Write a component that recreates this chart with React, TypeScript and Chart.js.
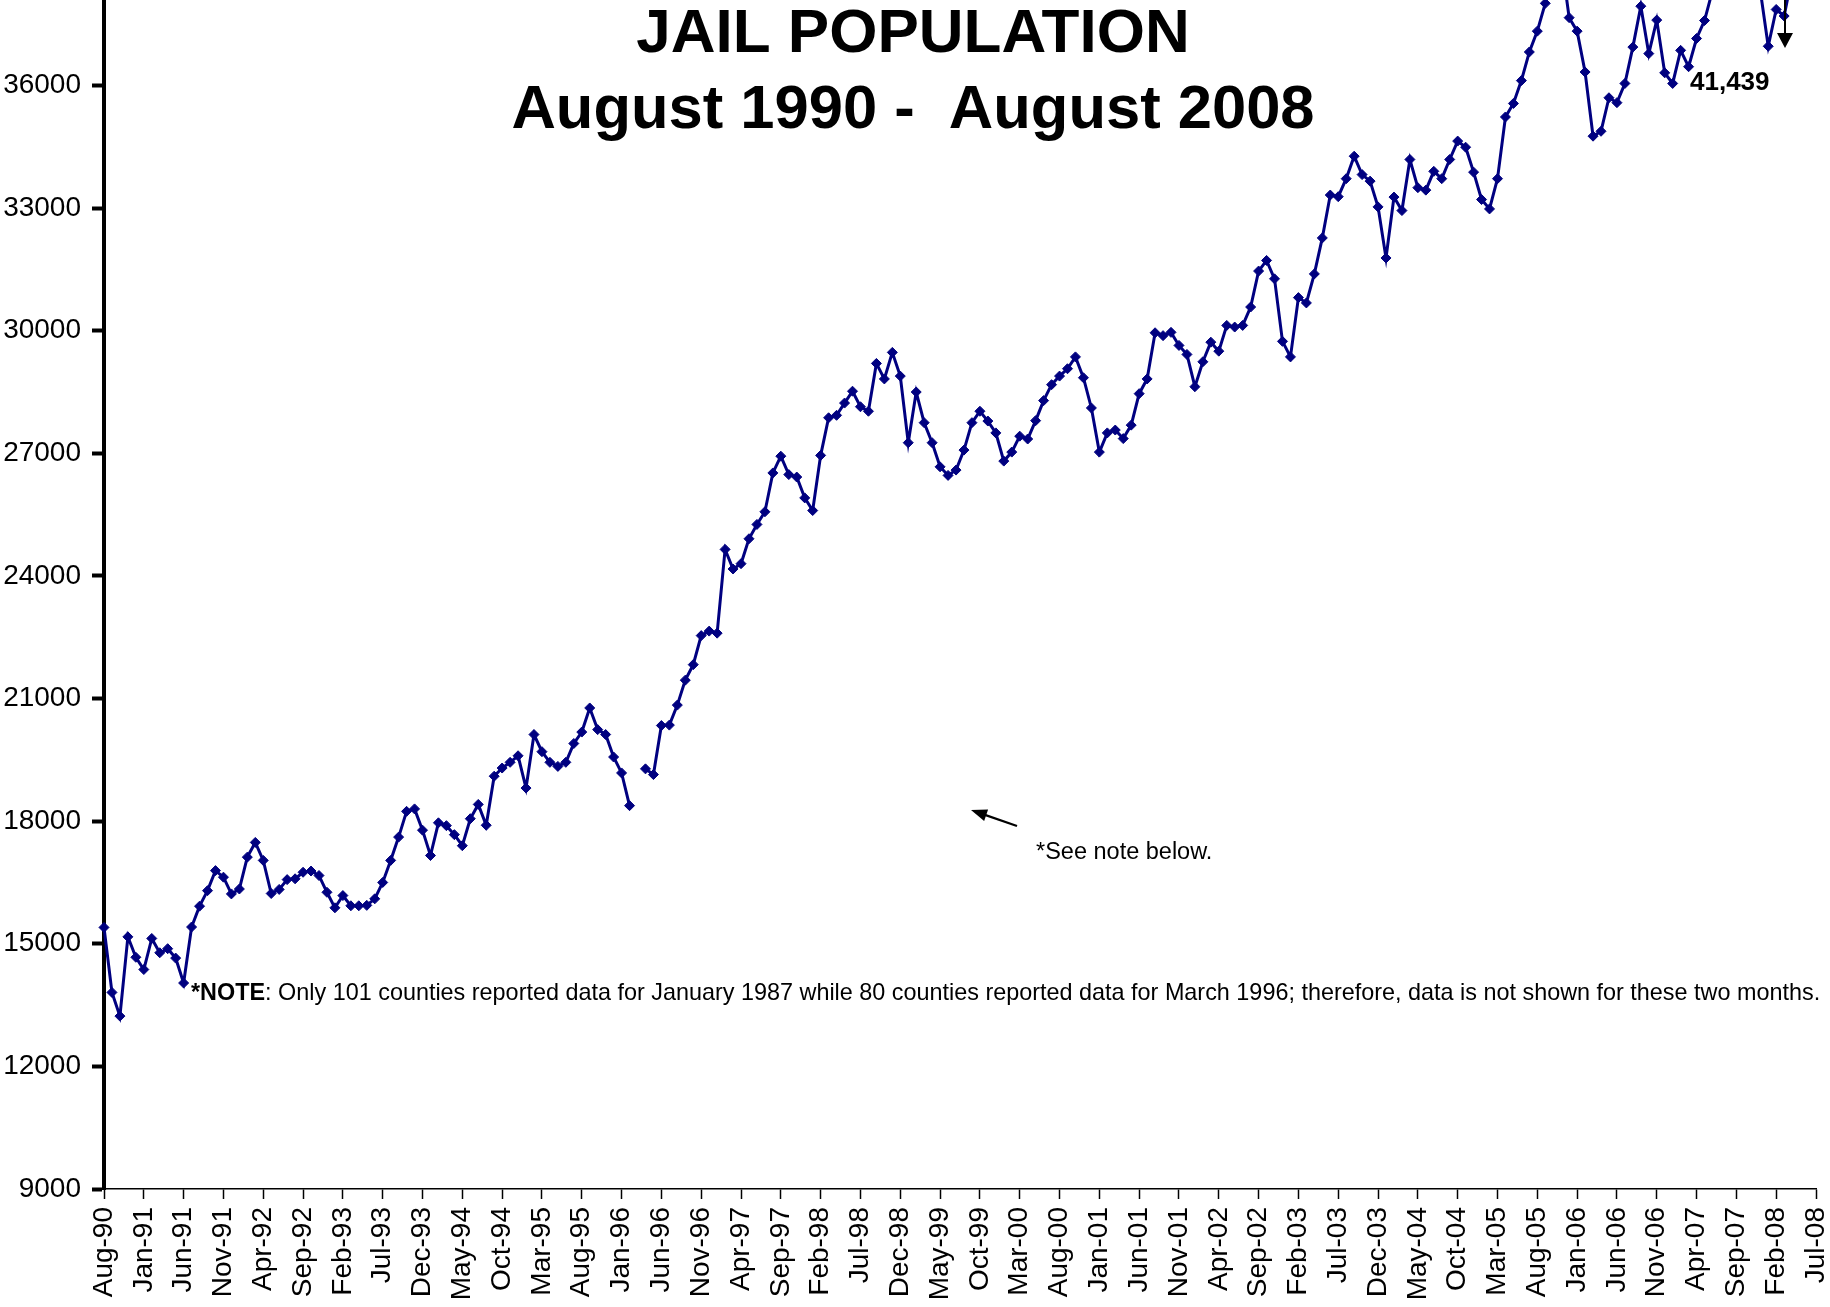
import React, { useEffect, useRef } from 'react';
import { Chart, registerables } from 'chart.js';

Chart.register(...registerables);

const MONTH_NAMES = ['Jan', 'Feb', 'Mar', 'Apr', 'May', 'Jun', 'Jul', 'Aug', 'Sep', 'Oct', 'Nov', 'Dec'];

// Monthly categories, Aug-90 .. Aug-08
const CATEGORIES: string[] = [];
for (let i = 0; i < 217; i++) {
  const mi = (7 + i) % 12;
  const yr = 1990 + Math.floor((7 + i) / 12);
  CATEGORIES.push(`${MONTH_NAMES[mi]}-${String(yr % 100).padStart(2, '0')}`);
}

// Jail population (Mar-96 not shown)
const POPULATION: (number | null)[] = [
  15400, 13810, 13230, 15170, 14670, 14370, 15130, 14780, 14880, 14650,
  14040, 15410, 15920, 16300, 16790, 16630, 16220, 16340, 17120, 17480,
  17040, 16230, 16330, 16570, 16590, 16750, 16780, 16670, 16260, 15880,
  16180, 15930, 15930, 15940, 16100, 16500, 17040, 17610, 18240, 18300,
  17780, 17160, 17960, 17890, 17670, 17400, 18060, 18410, 17900, 19100,
  19300, 19440, 19600, 18810, 20120, 19700, 19440, 19340, 19440, 19900,
  20180, 20770, 20240, 20120, 19570, 19180, 18380, null, 19280, 19140,
  20340, 20350, 20840, 21450, 21830, 22540, 22650, 22600, 24650, 24170,
  24300, 24910, 25260, 25570, 26520, 26930, 26480, 26420, 25910, 25600,
  26950, 27870, 27930, 28230, 28520, 28140, 28030, 29200, 28820, 29470,
  28890, 27260, 28500, 27750, 27260, 26670, 26460, 26590, 27080, 27750,
  28030, 27790, 27500, 26810, 27030, 27420, 27350, 27800, 28290, 28680,
  28890, 29070, 29360, 28850, 28110, 27030, 27500, 27570, 27360, 27690,
  28460, 28820, 29950, 29880, 29960, 29640, 29420, 28630, 29240, 29720,
  29500, 30130, 30090, 30130, 30580, 31460, 31720, 31270, 29740, 29360,
  30810, 30680, 31390, 32270, 33320, 33280, 33720, 34270, 33820, 33660,
  33030, 31780, 33270, 32940, 34190, 33500, 33440, 33900, 33720, 34190,
  34640, 34490, 33880, 33210, 32980, 33720, 35230, 35560, 36120, 36820,
  37330, 38010, 38900, 39100, 37660, 37330, 36330, 34760, 34880, 35700,
  35580, 36050, 36940, 37940, 36780, 37600, 36310, 36050, 36860, 36460,
  37150, 37590, 38320, 38900, 39300, 39500, 39200, 38800, 38330, 36960,
  37860, 37700, 38680, 39600, 40400, 40900, 41439,
];

const Y_TICKS = [9000, 12000, 15000, 18000, 21000, 24000, 27000, 30000, 33000, 36000];

const X_TICK_LABELS = [
  'Aug-90', 'Jan-91', 'Jun-91', 'Nov-91', 'Apr-92', 'Sep-92', 'Feb-93', 'Jul-93', 'Dec-93', 'May-94',
  'Oct-94', 'Mar-95', 'Aug-95', 'Jan-96', 'Jun-96', 'Nov-96', 'Apr-97', 'Sep-97', 'Feb-98', 'Jul-98',
  'Dec-98', 'May-99', 'Oct-99', 'Mar-00', 'Aug-00', 'Jan-01', 'Jun-01', 'Nov-01', 'Apr-02', 'Sep-02',
  'Feb-03', 'Jul-03', 'Dec-03', 'May-04', 'Oct-04', 'Mar-05', 'Aug-05', 'Jan-06', 'Jun-06', 'Nov-06',
  'Apr-07', 'Sep-07', 'Feb-08', 'Jul-08',
];

const TITLE_LINES = ['JAIL POPULATION', 'August 1990 -  August 2008'];
const LAST_VALUE_LABEL = '41,439';
const SEE_NOTE = '*See note below.';
const NOTE_BOLD = '*NOTE';
const NOTE_TEXT = ': Only 101 counties reported data for January 1987 while 80 counties reported data for March 1996; therefore, data is not shown for these two months.';

const FONT = '"Liberation Sans", Arial, Helvetica, sans-serif';
const NAVY = '#000080';

function arrow(ctx: CanvasRenderingContext2D, x1: number, y1: number, x2: number, y2: number, len: number, half: number, lw: number) {
  const dx = x2 - x1;
  const dy = y2 - y1;
  const d = Math.hypot(dx, dy);
  const ux = dx / d;
  const uy = dy / d;
  const bx = x2 - ux * len;
  const by = y2 - uy * len;
  ctx.beginPath();
  ctx.lineWidth = lw;
  ctx.moveTo(x1, y1);
  ctx.lineTo(bx + ux * 2, by + uy * 2);
  ctx.stroke();
  ctx.beginPath();
  ctx.moveTo(x2, y2);
  ctx.lineTo(bx - uy * half, by + ux * half);
  ctx.lineTo(bx + uy * half, by - ux * half);
  ctx.closePath();
  ctx.fill();
}

const annotationPlugin = {
  id: 'jailAnnotations',
  afterDraw(chart: any) {
    const ctx: CanvasRenderingContext2D = chart.ctx;
    ctx.save();
    ctx.fillStyle = '#000';
    ctx.strokeStyle = '#000';
    ctx.textBaseline = 'alphabetic';

    // title
    ctx.textAlign = 'center';
    ctx.font = `bold 62px ${FONT}`;
    ctx.fillText(TITLE_LINES[0], 913, 52);
    ctx.font = `bold 61.5px ${FONT}`;
    ctx.fillText(TITLE_LINES[1], 913, 128);

    // last value label + arrow
    ctx.textAlign = 'left';
    ctx.font = `bold 26px ${FONT}`;
    ctx.fillText(LAST_VALUE_LABEL, 1690, 90);
    arrow(ctx, 1785, -2, 1785, 48, 15, 8, 2);

    // see note
    ctx.font = `23.5px ${FONT}`;
    ctx.fillText(SEE_NOTE, 1036, 859);
    arrow(ctx, 1017, 826, 971, 810, 16, 6, 2.2);

    // note
    ctx.font = `bold 23.4px ${FONT}`;
    ctx.fillText(NOTE_BOLD, 191, 1000);
    const w = ctx.measureText(NOTE_BOLD).width;
    ctx.font = `23.4px ${FONT}`;
    ctx.fillText(NOTE_TEXT, 191 + w, 1000);

    ctx.restore();
  },
};

export default function App() {
  const canvasRef = useRef<HTMLCanvasElement | null>(null);

  useEffect(() => {
    if (!canvasRef.current) return;
    const chart = new Chart(canvasRef.current, {
      type: 'line',
      data: {
        labels: CATEGORIES,
        datasets: [
          {
            label: 'Jail Population',
            data: POPULATION,
            borderColor: NAVY,
            backgroundColor: NAVY,
            borderWidth: 3,
            pointStyle: 'rectRot',
            pointRadius: 5,
            pointBorderWidth: 1,
            pointBackgroundColor: NAVY,
            pointBorderColor: NAVY,
            tension: 0,
            spanGaps: false,
            clip: false as any,
          },
        ],
      },
      options: {
        responsive: false,
        animation: false,
        devicePixelRatio: 1,
        layout: { autoPadding: false, padding: { left: 0, right: 14, top: 0, bottom: 0 } },
        plugins: {
          legend: { display: false },
          tooltip: { enabled: false },
          title: { display: false },
        },
        scales: {
          x: {
            type: 'category',
            min: 0,
            max: 215,
            offset: false,
            grid: {
              display: true,
              drawOnChartArea: false,
              drawTicks: true,
              tickLength: 10,
              tickWidth: 1.5,
              tickColor: '#000',
              color: '#000',
            },
            border: { display: true, color: '#000', width: 1.5 },
            ticks: {
              autoSkip: false,
              maxRotation: 90,
              minRotation: 90,
              padding: 8,
              color: '#000',
              font: { family: FONT, size: 28 },
              callback: (_v: any, i: number) => X_TICK_LABELS[i],
            },
            afterBuildTicks: (s: any) => {
              s.ticks = s.ticks.filter((t: any) => t.value % 5 === 0);
            },
            afterFit: (s: any) => {
              s.paddingLeft = 0;
              s.paddingRight = 0;
              s.height = 118;
            },
          },
          y: {
            type: 'linear',
            min: 9000,
            max: 38092,
            grid: {
              display: true,
              drawOnChartArea: false,
              drawTicks: true,
              tickLength: 12,
              tickWidth: 4,
              tickColor: '#000',
              color: '#000',
            },
            border: { display: true, color: '#000', width: 4 },
            ticks: {
              padding: 11,
              color: '#000',
              font: { family: FONT, size: 28 },
              callback: (v: any) => String(v),
            },
            afterBuildTicks: (s: any) => {
              s.ticks = Y_TICKS.map((v) => ({ value: v }));
            },
            afterFit: (s: any) => {
              s.width = 104;
              s.paddingTop = 0;
              s.paddingBottom = 0;
            },
          },
        },
      },
      plugins: [annotationPlugin],
    } as any);
    return () => chart.destroy();
  }, []);

  return (
    <div style={{ position: 'fixed', left: 0, top: 0, width: 1830, height: 1307, background: '#fff' }}>
      <canvas ref={canvasRef} width={1830} height={1307} style={{ display: 'block', width: 1830, height: 1307 }} />
    </div>
  );
}
